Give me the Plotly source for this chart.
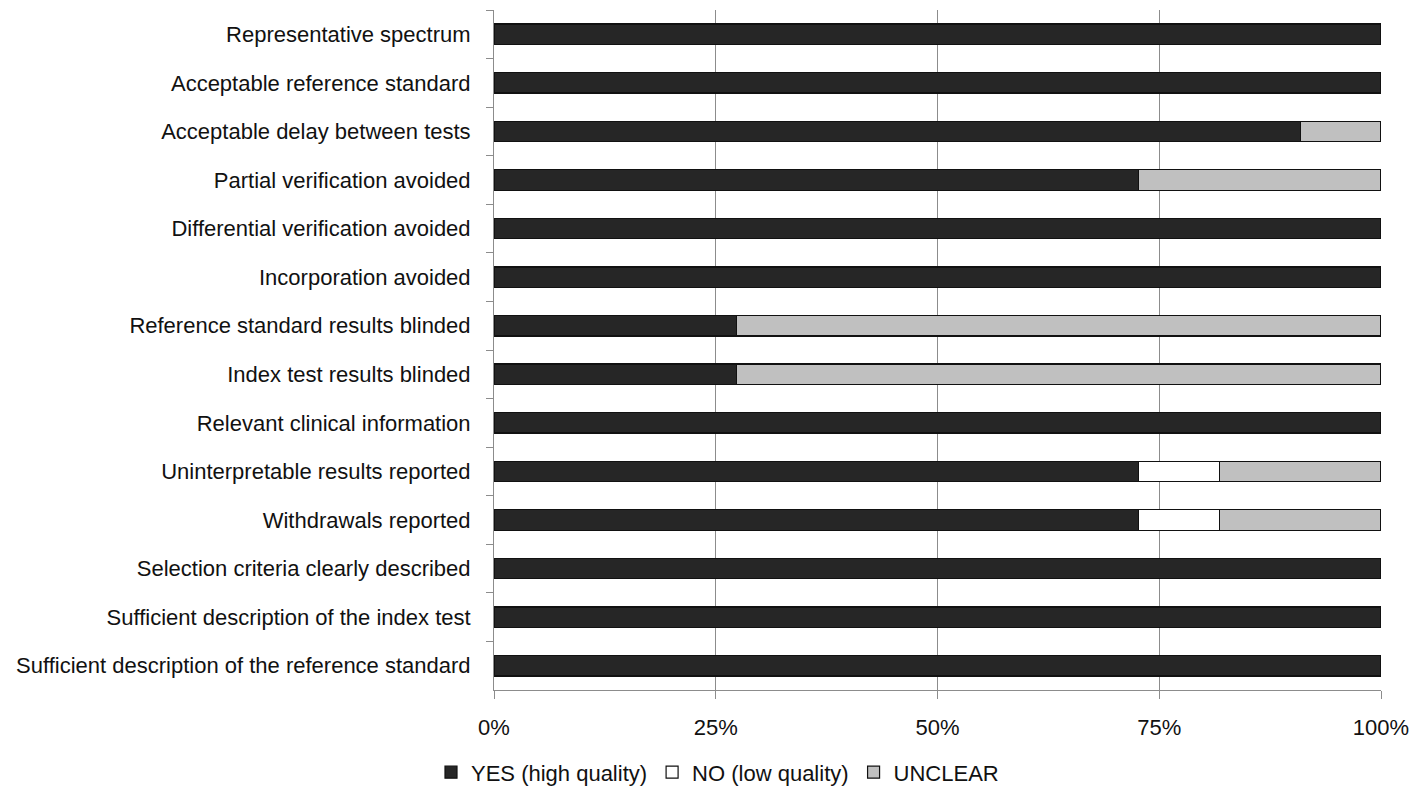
import plotly.graph_objects as go

categories = [
    "Representative spectrum",
    "Acceptable reference standard",
    "Acceptable delay between tests",
    "Partial verification avoided",
    "Differential verification avoided",
    "Incorporation avoided",
    "Reference standard results blinded",
    "Index test results blinded",
    "Relevant clinical information",
    "Uninterpretable results reported",
    "Withdrawals reported",
    "Selection criteria clearly described",
    "Sufficient description of the index test",
    "Sufficient description of the reference standard",
]
yes_vals = [100, 100, 90.9, 72.7, 100, 100, 27.3, 27.3, 100, 72.7, 72.7, 100, 100, 100]
no_vals = [0, 0, 0, 0, 0, 0, 0, 0, 0, 9.1, 9.1, 0, 0, 0]
unclear_vals = [0, 0, 9.1, 27.3, 0, 0, 72.7, 72.7, 0, 18.2, 18.2, 0, 0, 0]
x_ticks = [0, 25, 50, 75, 100]
x_tick_labels = ["0%", "25%", "50%", "75%", "100%"]

FONT = "Liberation Sans, Arial, sans-serif"

fig = go.Figure()
for name, vals, color in [
    ("YES (high quality)", yes_vals, "#262626"),
    ("NO (low quality)", no_vals, "#ffffff"),
    ("UNCLEAR", unclear_vals, "#c0c0c0"),
]:
    fig.add_trace(go.Bar(
        y=categories, x=vals, name=name, orientation="h",
        marker=dict(color=color, line=dict(color="#111111", width=1.2)),
    ))

fig.update_layout(
    barmode="stack",
    bargap=0.58,
    width=1419, height=780,
    paper_bgcolor="white", plot_bgcolor="white",
    margin=dict(l=486, r=46, t=2, b=98),
    font=dict(family=FONT, size=22, color="#111111"),
    showlegend=True,
    legend=dict(
        orientation="h", xref="container", yref="container",
        x=0.5, xanchor="center", y=0.02, yanchor="middle",
        font=dict(size=22), traceorder="normal",
    ),
    xaxis=dict(
        range=[0, 100], tickvals=x_ticks, ticktext=x_tick_labels,
        showgrid=True, gridcolor="#8c8c8c", gridwidth=1,
        showline=True, linecolor="#8c8c8c", linewidth=1,
        ticks="outside", ticklen=8, tickcolor="#8c8c8c",
        zeroline=False, fixedrange=True,
        ticklabelstandoff=10,
    ),
    yaxis=dict(
        categoryorder="array", categoryarray=categories,
        autorange="reversed",
        showline=True, linecolor="#8c8c8c", linewidth=1,
        ticks="outside", ticklen=7, tickcolor="#8c8c8c",
        tickson="boundaries", showgrid=False,
        ticklabelstandoff=18,
    ),
)

fig.write_html("out.html")
